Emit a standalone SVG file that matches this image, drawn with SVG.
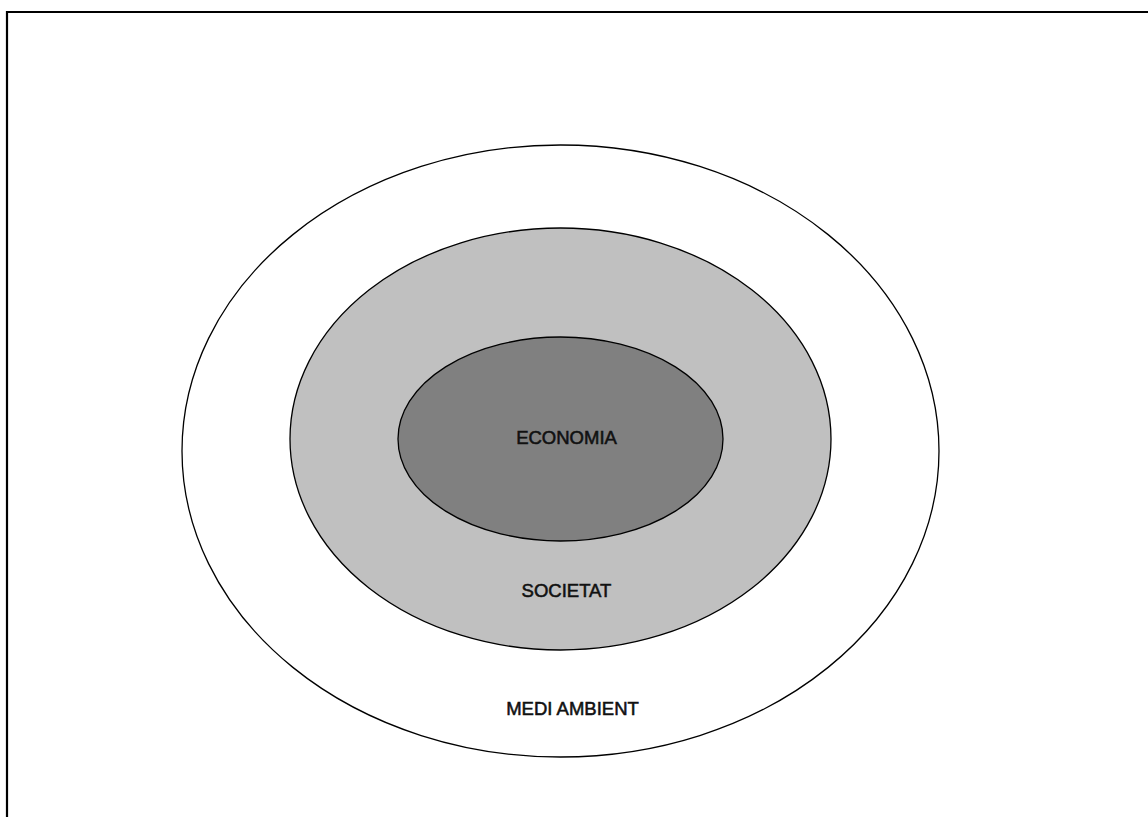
<svg xmlns="http://www.w3.org/2000/svg" width="1148" height="817" viewBox="0 0 1148 817">
<style>
.e{stroke:#000;stroke-width:1.3}
.t{font-family:"Liberation Sans",Arial,sans-serif;font-size:18.5px;fill:#111;stroke:#111;stroke-width:0.55;text-anchor:middle}
</style>
<rect x="0" y="0" width="1148" height="817" fill="#fff"/>
<path d="M7,817 V12 H1148" fill="none" stroke="#000" stroke-width="2.2"/>
<g id="medi-ambient">
<ellipse class="e" cx="560.5" cy="451" rx="378.5" ry="306" fill="#fff"/>
<text class="t" x="572.5" y="715">MEDI AMBIENT</text>
</g>
<g id="societat">
<ellipse class="e" cx="560.5" cy="439" rx="270.5" ry="211" fill="#c0c0c0"/>
<text class="t" x="566.5" y="597">SOCIETAT</text>
</g>
<g id="economia">
<ellipse class="e" cx="560.5" cy="439" rx="162.5" ry="102" fill="#808080"/>
<text class="t" x="566.5" y="444">ECONOMIA</text>
</g>
<g id="connectors"/>
</svg>
